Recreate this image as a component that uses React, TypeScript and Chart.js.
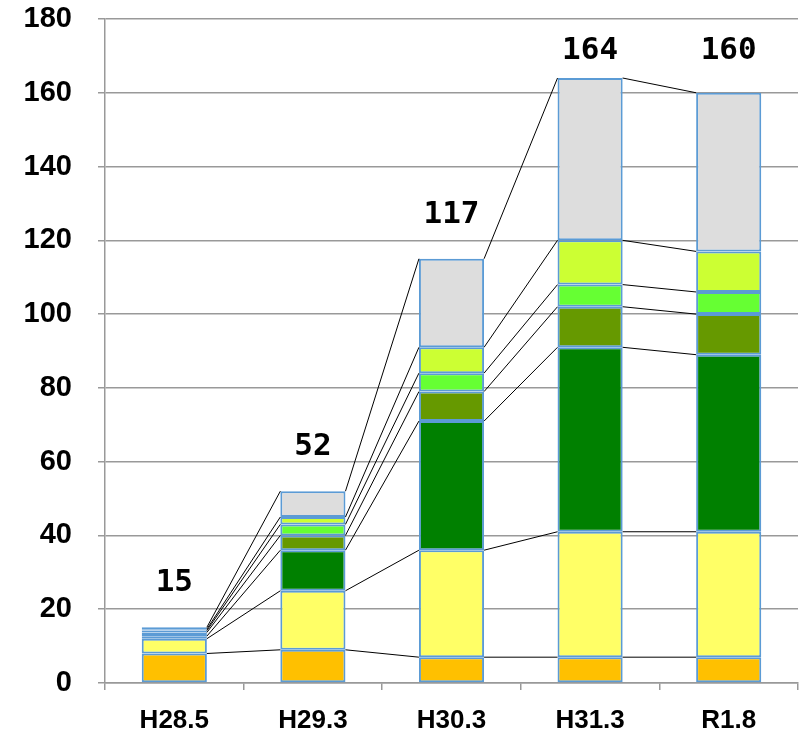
import React, { useEffect, useRef } from "react";
import { Chart, registerables } from "chart.js";

Chart.register(...registerables);

const categories = ["H28.5", "H29.3", "H30.3", "H31.3", "R1.8"];
const seriesOrange = [8, 9, 7, 7, 7];
const seriesYellow = [4, 16, 29, 34, 34];
const seriesDarkGreen = [0.7, 11, 35, 50, 48];
const seriesOlive = [1, 4, 8, 11, 11];
const seriesBrightGreen = [0.5, 3, 5, 6, 6];
const seriesYellowGreen = [0.4, 2, 7, 12, 11];
const seriesGray = [0.5, 7, 24, 44, 43];
const totalLabels = ["15", "52", "117", "164", "160"];
const yTicks = [0, 20, 40, 60, 80, 100, 120, 140, 160, 180];

const seriesList = [
  { name: "s1", data: seriesOrange, color: "#FFC000" },
  { name: "s2", data: seriesYellow, color: "#FFFF66" },
  { name: "s3", data: seriesDarkGreen, color: "#008000" },
  { name: "s4", data: seriesOlive, color: "#669900" },
  { name: "s5", data: seriesBrightGreen, color: "#66FF33" },
  { name: "s6", data: seriesYellowGreen, color: "#CCFF33" },
  { name: "s7", data: seriesGray, color: "#DDDDDD" },
];

const connectorPlugin = {
  id: "connectors",
  afterDatasetsDraw(chart: any) {
    const ctx = chart.ctx;
    ctx.save();
    ctx.strokeStyle = "#000000";
    ctx.lineWidth = 1;
    chart.data.datasets.forEach((_: any, di: number) => {
      const meta = chart.getDatasetMeta(di);
      for (let i = 0; i < meta.data.length - 1; i++) {
        const a = meta.data[i] as any;
        const b = meta.data[i + 1] as any;
        ctx.beginPath();
        ctx.moveTo(a.x + a.width / 2, a.y);
        ctx.lineTo(b.x - b.width / 2, b.y);
        ctx.stroke();
      }
    });
    ctx.restore();
  },
};

const totalsPlugin = {
  id: "totals",
  afterDatasetsDraw(chart: any) {
    const ctx = chart.ctx;
    const last = chart.getDatasetMeta(chart.data.datasets.length - 1);
    ctx.save();
    ctx.fillStyle = "#000000";
    ctx.font = "bold 31px 'DejaVu Sans Mono'";
    ctx.textAlign = "center";
    ctx.textBaseline = "middle";
    last.data.forEach((el: any, i: number) => {
      const y = Math.max(el.y - 44, 51);
      ctx.fillText(totalLabels[i], el.x, y);
    });
    ctx.restore();
  },
};

export default function App() {
  const ref = useRef<HTMLCanvasElement>(null);
  useEffect(() => {
    document.body.style.margin = "0";
    if (!ref.current) return;
    const chart = new Chart(ref.current, {
      type: "bar",
      data: {
        labels: categories,
        datasets: seriesList.map((s) => ({
          label: s.name,
          data: s.data,
          backgroundColor: s.color,
          borderColor: "#5B9BD5",
          borderWidth: 2,
          borderSkipped: false,
          barPercentage: 0.47,
          categoryPercentage: 1,
        })),
      },
      options: {
        responsive: false,
        animation: false,
        layout: { padding: { top: 19, right: 11, left: 0, bottom: 0 } },
        plugins: {
          legend: { display: false },
          tooltip: { enabled: false },
        },
        scales: {
          x: {
            stacked: true,
            afterFit: (axis: any) => {
              axis.height = 51;
              axis.paddingLeft = 0;
              axis.paddingRight = 0;
            },
            grid: {
              offset: true,
              drawOnChartArea: false,
              drawTicks: true,
              tickLength: 7,
              color: "#999999",
              lineWidth: 1.5,
            },
            border: { display: true, color: "#999999", width: 1.5 },
            ticks: {
              color: "#000000",
              padding: 15,
              font: { family: "'Liberation Sans'", size: 26, weight: "bold" },
            },
          },
          y: {
            stacked: true,
            min: 0,
            max: 180,
            afterFit: (axis: any) => {
              axis.width = 105;
              axis.paddingTop = 0;
              axis.paddingBottom = 0;
            },
            afterBuildTicks: (axis: any) => {
              axis.ticks = yTicks.map((v) => ({ value: v }));
            },
            grid: {
              drawTicks: true,
              tickLength: 7,
              color: "#999999",
              lineWidth: 1.5,
            },
            border: { display: true, color: "#999999", width: 1.5 },
            ticks: {
              color: "#000000",
              padding: 26,
              font: { family: "'Liberation Sans'", size: 29, weight: "bold" },
            },
          },
        },
      },
      plugins: [connectorPlugin, totalsPlugin],
    });
    return () => chart.destroy();
  }, []);
  return <canvas ref={ref} width={809} height={734} />;
}
